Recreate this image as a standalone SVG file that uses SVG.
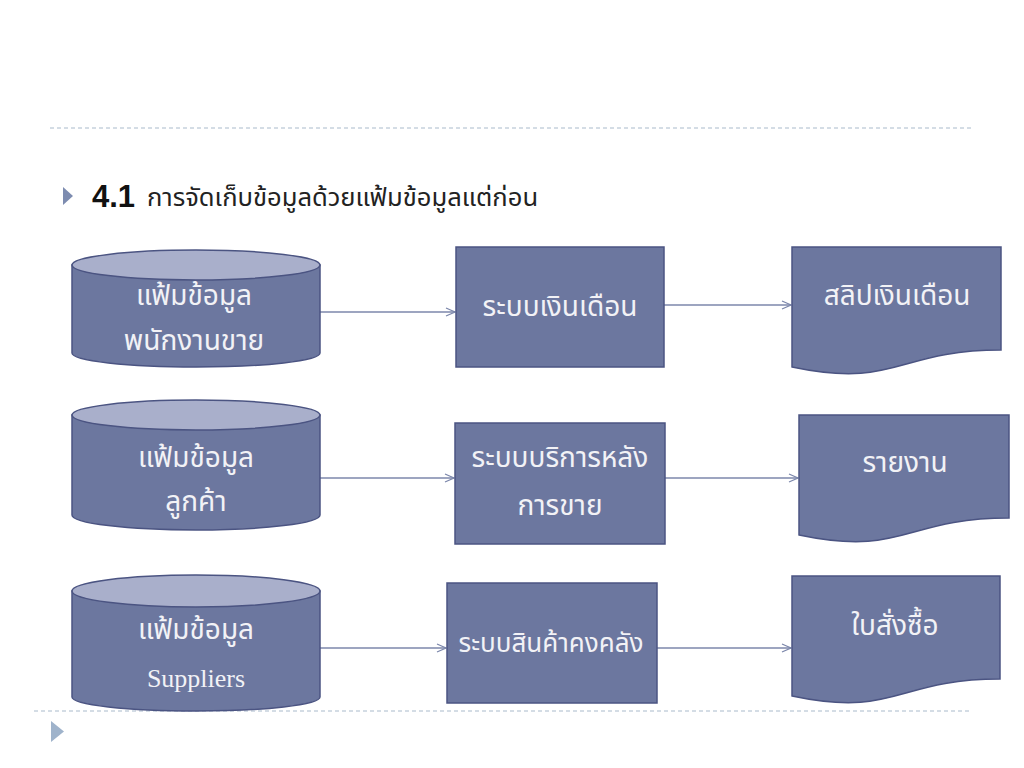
<svg xmlns="http://www.w3.org/2000/svg" width="1024" height="768" viewBox="0 0 1024 768">
<defs>
<style>
.body{fill:#6C779F;stroke:#4B5482;stroke-width:1.5}
.cap{fill:#A9AFCB;stroke:#4B5482;stroke-width:1.5}
.lbl{font-family:"Noto Sans Thai","Noto Sans","DejaVu Sans",sans-serif;font-size:28px;fill:#F2F2F6;text-anchor:middle}
.ser{font-family:"Liberation Serif","Noto Sans Thai",serif}
.conn{stroke:#7C87AB;stroke-width:1.3;fill:none;marker-end:url(#arr)}
.dash{stroke:#A9BACB;stroke-width:1;stroke-dasharray:4 3}
</style>
<marker id="arr" markerWidth="12" markerHeight="12" refX="10" refY="5" orient="auto" markerUnits="userSpaceOnUse">
<path d="M1,1 L10,5 L1,9" fill="none" stroke="#7C87AB" stroke-width="1.3"/>
</marker>
</defs>
<rect width="1024" height="768" fill="#FFFFFF"/>
<line class="dash" x1="50" y1="128" x2="972" y2="128"/>
<line class="dash" x1="34" y1="711" x2="972" y2="711"/>
<polygon points="51,721 64,731.5 51,742" fill="#9FB3CB"/>

<g id="title">
<polygon points="63,187 73,196 63,205" fill="#7D8CB0"/>
<text x="92" y="207" font-family="Liberation Sans,Arial,sans-serif" font-weight="bold" font-size="31" fill="#111">4.1</text>
<text x="147" y="206" font-family="Noto Sans Thai,Noto Sans,DejaVu Sans,sans-serif" font-size="25.6" fill="#222">การจัดเก็บข้อมูลด้วยแฟ้มข้อมูลแต่ก่อน</text>
</g>

<g id="connectors">
<line class="conn" x1="320" y1="312" x2="455" y2="312"/>
<line class="conn" x1="664" y1="305" x2="791" y2="305"/>
<line class="conn" x1="320" y1="478" x2="454" y2="478"/>
<line class="conn" x1="665" y1="478" x2="798" y2="478"/>
<line class="conn" x1="320" y1="648" x2="446" y2="648"/>
<line class="conn" x1="657" y1="648" x2="791" y2="648"/>
</g>

<g id="db1">
<path class="body" d="M72,265 V353 A124,14 0 0 0 320,353 V265 Z"/>
<ellipse class="cap" cx="196" cy="265" rx="124" ry="15"/>
<text class="lbl" x="194" y="305">แฟ้มข้อมูล</text>
<text class="lbl" x="194" y="350">พนักงานขาย</text>
</g>
<g id="db2">
<path class="body" d="M72,415 V515 A124,15 0 0 0 320,515 V415 Z"/>
<ellipse class="cap" cx="196" cy="415" rx="124" ry="15"/>
<text class="lbl" x="196" y="467">แฟ้มข้อมูล</text>
<text class="lbl" x="196" y="511">ลูกค้า</text>
</g>
<g id="db3">
<path class="body" d="M72,591 V697 A124,14 0 0 0 320,697 V591 Z"/>
<ellipse class="cap" cx="196" cy="591" rx="124" ry="16"/>
<text class="lbl ser" x="196" y="639">แฟ้มข้อมูล</text>
<text class="lbl ser" x="196" y="687" style="font-size:26px">Suppliers</text>
</g>

<g id="proc1">
<rect class="body" x="456" y="247" width="208" height="120"/>
<text class="lbl" x="560" y="316">ระบบเงินเดือน</text>
</g>
<g id="proc2">
<rect class="body" x="455" y="423" width="210" height="121"/>
<text class="lbl" x="560" y="467">ระบบบริการหลัง</text>
<text class="lbl" x="560" y="515">การขาย</text>
</g>
<g id="proc3">
<rect class="body" x="447" y="583" width="210" height="120"/>
<text class="lbl" x="551" y="652" style="font-size:26px">ระบบสินค้าคงคลัง</text>
</g>

<g id="doc1">
<path class="body" d="M792,247 H1001 V350 C896.5,350 896.5,389 792,367 Z"/>
<text class="lbl" x="897" y="305">สลิปเงินเดือน</text>
</g>
<g id="doc2">
<path class="body" d="M799,415 H1009 V518 C904,518 904,557 799,535 Z"/>
<text class="lbl" x="905" y="472">รายงาน</text>
</g>
<g id="doc3">
<path class="body" d="M792,576 H1000 V679 C896,679 896,718 792,696 Z"/>
<text class="lbl" x="895" y="635">ใบสั่งซื้อ</text>
</g>
</svg>
